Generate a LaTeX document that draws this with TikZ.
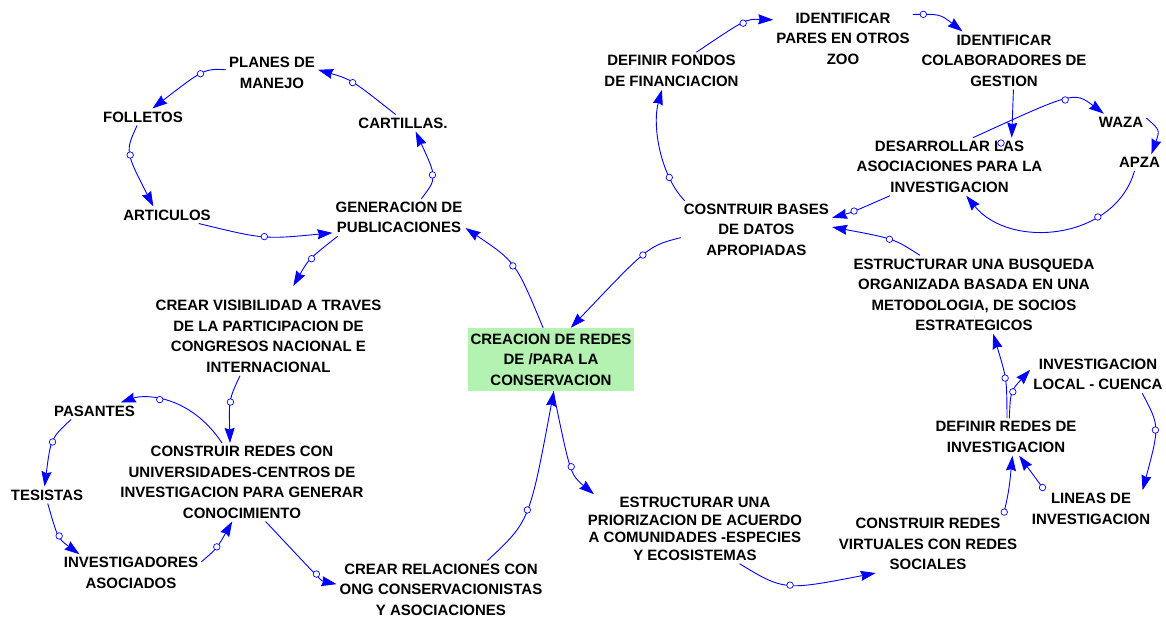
\documentclass[tikz,border=0pt]{standalone}
\usepackage{fontspec}
\setmainfont{Liberation Sans}
\usetikzlibrary{arrows.meta}
\definecolor{linkblue}{RGB}{0,0,255}
\definecolor{boxgreen}{RGB}{180,242,178}
\tikzset{
  lbl/.style={align=center, inner sep=3pt, text=black, font=\fontsize{15}{20.5}\selectfont\bfseries},
  lbltight/.style={lbl, font=\fontsize{15}{17.5}\selectfont\bfseries},
  link/.style={draw=linkblue, line width=0.9pt, -{Stealth[length=15pt,width=10pt,inset=1.5pt]}},
  valve/.style={circle, draw=linkblue, fill=white, line width=0.7pt, inner sep=0pt, minimum size=6.5pt},
}
\begin{document}
\begin{tikzpicture}[x=1pt,y=-1pt]
\useasboundingbox (0,0) rectangle (1166,618);

% ---------- nodes ----------
\node[lbl] (planes) at (272,73) {PLANES DE\\MANEJO};
\node[lbl] (folletos) at (143,117) {FOLLETOS};
\node[lbl] (cart) at (403,123) {CARTILLAS.};
\node[lbl] (artic) at (167,215) {ARTICULOS};
\node[lbl] (gen) at (399,217.5) {GENERACION DE\\PUBLICACIONES};
\node[lbl] (crear) at (268.5,336.5) {CREAR VISIBILIDAD A TRAVES\\DE LA PARTICIPACION DE\\CONGRESOS NACIONAL E\\INTERNACIONAL};
\node[lbl, fill=boxgreen, minimum width=156pt, minimum height=63pt] (creac) at (551,359.5) {CREACION DE REDES\\DE /PARA LA\\CONSERVACION};
\node[lbl] (pasantes) at (94.5,411) {PASANTES};
\node[lbl] (tesistas) at (47,495) {TESISTAS};
\node[lbl] (constr) at (242,482.2) {CONSTRUIR REDES CON\\UNIVERSIDADES-CENTROS DE\\INVESTIGACION PARA GENERAR\\CONOCIMIENTO};
\node[lbl] (invest) at (131,573) {INVESTIGADORES\\ASOCIADOS};
\node[lbl] (relac) at (441,589.6) {CREAR RELACIONES CON\\ONG CONSERVACIONISTAS\\Y ASOCIACIONES};
\node[lbl] (idpares) at (843,38.5) {IDENTIFICAR\\PARES EN OTROS\\ZOO};
\node[lbl] (fondos) at (671.5,71) {DEFINIR FONDOS\\DE FINANCIACION};
\node[lbl] (colab) at (1004,60.5) {IDENTIFICAR\\COLABORADORES DE\\GESTION};
\node[lbl] (waza) at (1121,122) {WAZA};
\node[lbl] (apza) at (1139.5,162.5) {APZA};
\node[lbl] (desarr) at (949.5,166.7) {DESARROLLAR LAS\\ASOCIACIONES PARA LA\\INVESTIGACION};
\node[lbl] (bases) at (756.4,229.7) {COSNTRUIR BASES\\DE DATOS\\APROPIADAS};
\node[lbl] (busq) at (974,294.6) {ESTRUCTURAR UNA BUSQUEDA\\ORGANIZADA BASADA EN UNA\\METODOLOGIA, DE SOCIOS\\ESTRATEGICOS};
\node[lbl] (local) at (1098,374.5) {INVESTIGACION\\LOCAL - CUENCA};
\node[lbl] (defredes) at (1006,437) {DEFINIR REDES DE\\INVESTIGACION};
\node[lbl] (lineas) at (1091,509) {LINEAS DE\\INVESTIGACION};
\node[lbltight] (prior) at (695,529) {ESTRUCTURAR UNA\\PRIORIZACION DE ACUERDO\\A COMUNIDADES -ESPECIES\\Y ECOSISTEMAS};
\node[lbl] (virtual) at (928,544) {CONSTRUIR REDES\\VIRTUALES CON REDES\\SOCIALES};

% ---------- connectors ----------
\draw[link] (cart.131) .. controls (351.3,79.5) .. (planes.4) node[valve,pos=.5] (v1) {};
\draw[link] (planes.176) .. controls (204.3,68.6) .. (folletos.42) node[valve,pos=.5] (v2) {};
\draw[link] (folletos.235) .. controls (125.2,151.4) .. (artic.148) node[valve,pos=.5] (v3) {};
\draw[link] (artic.-15.5) .. controls (263.9,239.4) .. (gen.193.7) node[valve,pos=.5] (v4) {};
\draw[link] (gen.40.9) .. controls (437.1,178.2) .. (cart.-34) node[valve,pos=.5] (v5) {};
\draw[link, shorten >=13pt] (gen.197.6) .. controls (308.8,259) .. (crear.65) node[valve,pos=.45] (v6) {};
\draw[link] (creac.104.3) .. controls (515.7,261.9) .. (gen.-9.5) node[valve,pos=.5] (v7) {};
\draw[link] (bases.186) .. controls (648.6,245.8) .. (creac.58.9) node[valve,pos=.5] (v8) {};
\draw[link] (crear.234.1) .. controls (228.9,399.6) .. (constr.107.7) node[valve,pos=.5] (v9) {};
\draw[link] (constr.117.8) .. controls (190,395) and (145,394) .. (pasantes.18) node[valve,pos=.58] (v10) {};
\draw[link] (pasantes.200) .. controls (50.8,438.3) .. (tesistas.106) node[valve,pos=.5] (v11) {};
\draw[link] (tesistas.-85.6) .. controls (57.7,538.3) .. (invest.160.7) node[valve,pos=.5] (v12) {};
\draw[link] (invest.9.3) .. controls (216.8,548.6) .. (constr.-104.4) node[valve,pos=.5] (v13) {};
\draw[link] (constr.-59.9) .. controls (321.5,581.1) .. (relac.177.4) node[valve,pos=.5] (v14) {};
\draw[link] (relac.32.8) .. controls (529.6,521.3) .. (creac.-85.6) node[valve,pos=.5] (v15) {};
\draw[link] (creac.-86.6) .. controls (570.4,474.7) .. (prior.161.5) node[valve,pos=.5] (v16) {};
\draw[link] (prior.-38.9) .. controls (784.2,590.7) .. (virtual.-151) node[valve,pos=.5] (v17) {};
\draw[link] (virtual.21.4) .. controls (1009,490) .. (defredes.-71.6) node[valve,pos=.04] (v18) {};
\draw[link] (lineas.158) -- (defredes.-55) node[valve,pos=.08] (v19) {};
\draw[link] (defredes.87.6) .. controls (1006.8,378.7) .. (busq.-64.2) node[valve,pos=.5] (v20) {};
\draw[link] (defredes.80) .. controls (1010.5,391.1) .. (local.176.9) node[valve,pos=.5] (v21) {};
\draw[link] (local.-23.2) .. controls (1159.7,426.1) .. (lineas.20.2) node[valve,pos=.5] (v22) {};
\draw[link] (busq.144) .. controls (893.9,238.6) .. (bases.2.4) node[valve,pos=.5] (v23) {};
\draw[link] (desarr.206) .. controls (851.7,212.5) .. (bases.9.2) node[valve,pos=.5] (v24) {};
\draw[link] (bases.158) .. controls (660,175) and (652,125) .. (fondos.-117.6) node[valve,pos=.25] (v25) {};
\draw[link] (fondos.37) .. controls (745.9,18.9) .. (idpares.165.5) node[valve,pos=.5] (v26) {};
\draw[link] (idpares.19.4) .. controls (940,14) .. (colab.145) node[valve,pos=.15] (v27) {};
\draw[link] (colab.-72) -- (desarr.25);
\node[valve] (v28) at (1001,143) {};
\draw[link] (desarr.51.8) .. controls (1074.1,91.4) .. (waza.154.5) node[valve,pos=.5] (v29) {};
\draw[link] (waza.9.9) .. controls (1160,130) .. (apza.35);
\draw[link] (apza.-121.8) .. controls (1115,240) and (1010,250) .. (desarr.-60.2) node[valve,pos=.3] (v31) {};
\end{tikzpicture}
\end{document}
